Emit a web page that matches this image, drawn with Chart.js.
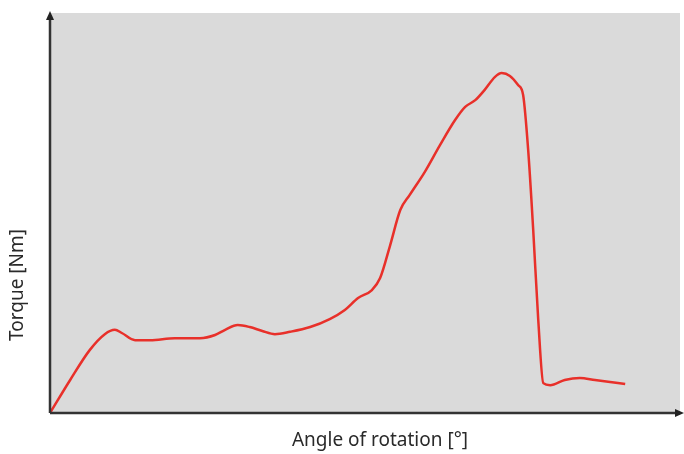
<!DOCTYPE html>
<html>
<head>
<meta charset="utf-8">
<script src="https://cdn.jsdelivr.net/npm/chart.js@4"></script>
<style>
  html, body { margin: 0; padding: 0; background: #fff; }
  #wrap { width: 684px; height: 454px; }
</style>
</head>
<body>
<div id="wrap"><canvas id="myChart" width="684" height="454"></canvas></div>
<script>
// angle of rotation (relative units, axis has no ticks)
var angle = [0, 3.2, 6.3, 8.7, 10.3, 11.4, 13.5, 15.9, 19.8, 23.8, 26.2, 27.8, 29.8, 31.7, 33.7, 35.7, 38.1, 41.3, 44.4, 46.8, 48.9, 51.1, 52.4, 54.0, 55.6, 57.1, 59.5, 61.9, 64.3, 65.9, 67.5, 69.0, 70.6, 71.7, 73.0, 74.3, 75.1, 75.9, 76.7, 77.5, 78.3, 79.4, 81.7, 84.1, 86.5, 88.9, 91.3];
// torque (relative units)
var torque = [0, 8.3, 15.8, 19.8, 20.9, 20.1, 18.3, 18.3, 18.8, 18.8, 19.6, 20.9, 22.1, 21.6, 20.6, 19.8, 20.4, 21.6, 23.6, 25.9, 28.9, 30.9, 33.9, 42.2, 51.0, 54.8, 60.6, 67.3, 73.6, 76.9, 78.6, 81.2, 84.4, 85.4, 84.7, 82.4, 79.9, 66.1, 46.0, 23.4, 7.5, 7.0, 8.3, 8.8, 8.3, 7.8, 7.3];
var xTitle = 'Angle of rotation [°]';
var yTitle = 'Torque [Nm]';

var points = angle.map(function(a, i) { return {x: a, y: torque[i]}; });

var decor = {
	id: 'decor',
	beforeDraw: function(chart) {
		var c = chart.ctx, a = chart.chartArea;
		c.save();
		c.fillStyle = '#dadada';
		c.fillRect(a.left, a.top - 2, a.right - a.left, a.bottom - a.top + 2);
		c.restore();
	},
	afterDraw: function(chart) {
		var c = chart.ctx, a = chart.chartArea;
		c.save();
		c.strokeStyle = '#333';
		c.fillStyle = '#222';
		c.lineWidth = 2.5;
		c.beginPath();
		c.moveTo(a.left, a.bottom);
		c.lineTo(a.left, a.top);
		c.moveTo(a.left, a.bottom);
		c.lineTo(a.right, a.bottom);
		c.stroke();
		// arrow heads
		c.beginPath();
		c.moveTo(a.left, a.top - 4);
		c.lineTo(a.left - 4, a.top + 5);
		c.lineTo(a.left + 4, a.top + 5);
		c.closePath();
		c.fill();
		c.beginPath();
		c.moveTo(a.right + 4, a.bottom);
		c.lineTo(a.right - 5, a.bottom - 4);
		c.lineTo(a.right - 5, a.bottom + 4);
		c.closePath();
		c.fill();
		// titles
		c.font = '19px "Noto Sans"';
		c.fillStyle = '#2a2a2a';
		c.textAlign = 'center';
		c.textBaseline = 'middle';
		c.fillText(xTitle, 380, 441);
		c.translate(18, 285);
		c.rotate(-Math.PI / 2);
		c.fillText(yTitle, 0, 0);
		c.restore();
	}
};

var ctx = document.getElementById('myChart').getContext('2d');
var myChart = new Chart(ctx, {
	type: 'line',
	data: {
		datasets: [{
			label: 'Torque',
			data: points,
			borderColor: '#e8302a',
			borderWidth: 2.5,
			pointRadius: 0,
			tension: 0.4,
			cubicInterpolationMode: 'monotone',
			fill: false
		}]
	},
	options: {
		responsive: false,
		animation: false,
		layout: { padding: { left: 50, top: 15, right: 4, bottom: 41 } },
		plugins: { legend: { display: false }, tooltip: { enabled: false } },
		scales: {
			x: {
				type: 'linear', min: 0, max: 100,
				display: false
			},
			y: {
				min: 0, max: 100,
				display: false
			}
		}
	},
	plugins: [decor]
});
</script>
</body>
</html>
